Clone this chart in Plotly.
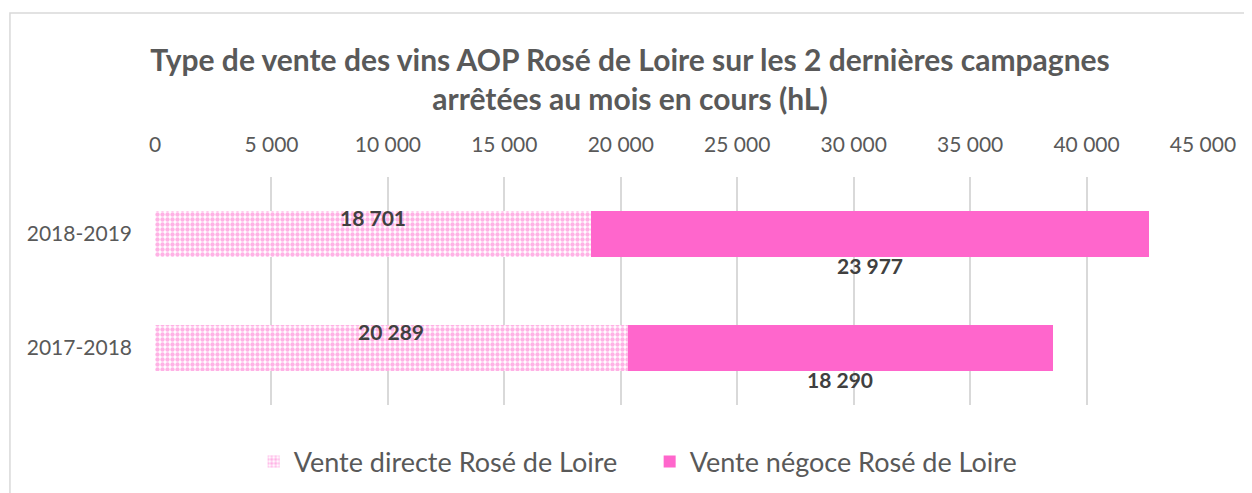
import plotly.graph_objects as go

campagnes = ["2017-2018", "2018-2019"]
vente_directe = [20289, 18701]
vente_negoce = [18290, 23977]
series_names = ["Vente directe Rosé de Loire", "Vente négoce Rosé de Loire"]
x_ticks = [0, 5000, 10000, 15000, 20000, 25000, 30000, 35000, 40000, 45000]

PINK = "#FF66CC"
GREY = "#595959"
FONT = "Lato"

fig = go.Figure()
fig.add_trace(go.Bar(
    y=campagnes, x=vente_directe, orientation="h", name=series_names[0],
    marker=dict(color="white", line=dict(width=0),
                pattern=dict(shape=".", fgcolor=PINK, bgcolor="white", size=5, solidity=0.6, fillmode="overlay")),
    width=0.4,
))
fig.add_trace(go.Bar(
    y=campagnes, x=vente_negoce, orientation="h", name=series_names[1],
    marker=dict(color=PINK, line=dict(width=0)),
    width=0.4,
))

def fmt(v):
    return f"{v:,}".replace(",", " ")

for i, c in enumerate(campagnes):
    d, n = vente_directe[i], vente_negoce[i]
    fig.add_annotation(x=d / 2, y=i, xref="x", yref="y", text=f"<b>{fmt(d)}</b>",
                       showarrow=False, yshift=17, font=dict(family=FONT, size=21, color="#404040"))
    fig.add_annotation(x=d + n / 2, y=i, xref="x", yref="y", text=f"<b>{fmt(n)}</b>",
                       showarrow=False, yshift=-31, font=dict(family=FONT, size=21, color="#404040"))

fig.add_shape(type="rect", xref="paper", yref="paper", x0=-0.1384, x1=1.2, y0=-0.6, y1=1.719,
              line=dict(color="#d9d9d9", width=1.5), fillcolor="rgba(0,0,0,0)", layer="below")

fig.update_layout(
    width=1244, height=485,
    margin=dict(l=147, r=49, t=169, b=88, autoexpand=False),
    paper_bgcolor="white", plot_bgcolor="white",
    barmode="stack",
    separators=", ",
    font=dict(family=FONT, color=GREY),
    title=dict(text="<b>Type de vente des vins AOP Rosé de Loire sur les 2 dernières campagnes<br>arrêtées au mois en cours (hL)</b>",
               x=0.5, xanchor="center", y=0.87, yanchor="top",
               font=dict(family=FONT, size=30, color=GREY)),
    xaxis=dict(side="top", range=[0, 45000], tickvals=x_ticks, tickformat=",d",
               showgrid=True, gridcolor="#d9d9d9", gridwidth=1.5, zeroline=False,
               showline=False, ticks="", ticklabelstandoff=20, automargin=False,
               tickfont=dict(family=FONT, size=21, color=GREY)),
    yaxis=dict(range=[-0.5, 1.5], showgrid=False, showline=False, ticks="",
               ticklabelstandoff=22, automargin=False, tickfont=dict(family=FONT, size=21, color=GREY)),
    legend=dict(orientation="h", x=0.472, xanchor="center", y=-0.142, yanchor="top",
                font=dict(family=FONT, size=27, color=GREY), traceorder="normal",
                entrywidth=351, entrywidthmode="pixels"),
    showlegend=True,
)

fig.write_html("out.html")
